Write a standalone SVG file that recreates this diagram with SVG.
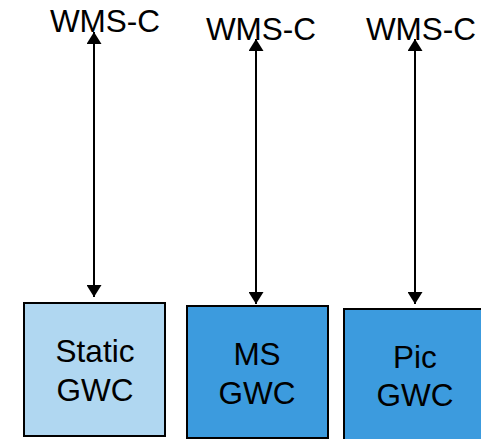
<svg xmlns="http://www.w3.org/2000/svg" width="481" height="439" viewBox="0 0 481 439">
<defs>
<marker id="ah" viewBox="0 0 12 15" refX="12" refY="7.5" markerWidth="12" markerHeight="15" markerUnits="userSpaceOnUse" orient="auto-start-reverse">
<path d="M0,0 L12,7.5 L0,15 Z" fill="#000"/>
</marker>
</defs>
<style>
text{font-family:"Liberation Sans",Arial,sans-serif;font-size:31.5px;fill:#000}
.light{fill:#B0D7F1;stroke:#000;stroke-width:2}
.dark{fill:#3C9BDE;stroke:#000;stroke-width:2}
.c{stroke:#000;stroke-width:2;fill:none;marker-start:url(#ah);marker-end:url(#ah)}
</style>
<g id="labels">
<text x="105" y="32" text-anchor="middle">WMS-C</text>
<text x="261" y="40" text-anchor="middle">WMS-C</text>
<text x="421" y="40" text-anchor="middle">WMS-C</text>
</g>
<g id="connectors">
<line class="c" x1="94" y1="32" x2="94" y2="297"/>
<line class="c" x1="256" y1="39" x2="256" y2="304"/>
<line class="c" x1="415" y1="39" x2="415" y2="304"/>
</g>
<g id="static-gwc">
<rect class="light" x="24" y="303" width="141" height="133"/>
<text x="95" y="362" text-anchor="middle">Static</text>
<text x="95" y="401" text-anchor="middle">GWC</text>
</g>
<g id="ms-gwc">
<rect class="dark" x="187" y="306" width="141" height="132"/>
<text x="257" y="365" text-anchor="middle">MS</text>
<text x="257" y="404" text-anchor="middle">GWC</text>
</g>
<g id="pic-gwc">
<rect class="dark" x="344" y="309" width="141" height="134"/>
<text x="415" y="368" text-anchor="middle">Pic</text>
<text x="415" y="406" text-anchor="middle">GWC</text>
</g>
</svg>
